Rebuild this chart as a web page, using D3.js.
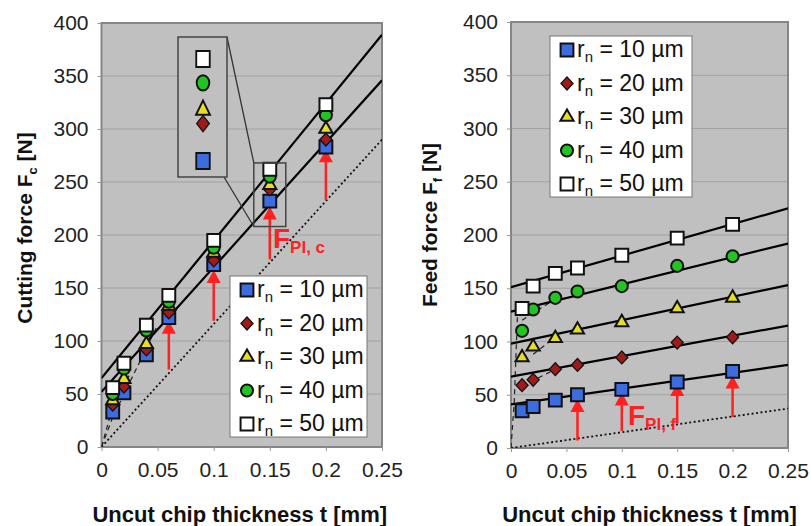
<!DOCTYPE html>
<html>
<head>
    <title>Cutting and feed force</title>
    <script src="https://d3js.org/d3.v7.min.js"></script>
    <style>
        body { margin:0; background:white; }
        svg { display:block; font-family:'Liberation Sans', Arial, sans-serif; }
    </style>
</head>
<body>
    <svg width="811" height="526"></svg>
<script>

    // uncut chip thickness values measured [mm]
    const tVals = [0.01, 0.02, 0.04, 0.06, 0.1, 0.15, 0.2];
    const radii = ['10', '20', '30', '40', '50'];
    const xTicks = [0, 0.05, 0.1, 0.15, 0.2, 0.25];
    const yTicks = [0, 50, 100, 150, 200, 250, 300, 350, 400];

    // cutting force Fc [N], one array per edge radius
    const fc10 = [33, 51, 87, 122, 172, 232, 283];
    const fc20 = [40, 57, 92, 127, 176, 243, 290];
    const fc30 = [44, 64, 97, 133, 183, 247, 300];
    const fc40 = [50, 74, 110, 137, 188, 255, 313];
    const fc50 = [56, 79, 115, 143, 195, 262, 323];

    // feed force Ff [N]
    const ff10 = [35, 39, 45, 50, 55, 62, 72];
    const ff20 = [59, 64, 74, 78, 85, 99, 104];
    const ff30 = [85, 95, 103, 111, 118, 131, 141];
    const ff40 = [110, 130, 141, 147, 152, 171, 180];
    const ff50 = [131, 152, 164, 169, 181, 197, 210];

    // fitted lines: value at t=0 and t=0.25
    const fcFits = [[52, 346], [65, 389]];
    const ffFits = [[41, 78], [67, 115], [98, 153], [128, 192], [151, 225]];
    // ploughing force line (dotted)
    const fcPlough = [0, 290];
    const ffPlough = [0, 37];
    // dashed run-in curves near origin
    const fcDashed = [[[0, 0], [0.01, 28], [0.05, 115]], [[0, 0], [0.01, 38], [0.025, 68]]];
    const ffDashed = [[[0, 0], [0.003, 45], [0.006, 130]], [[0.01, 58], [0.04, 74]],
                      [[0.02, 88], [0.04, 104]], [[0.01, 120], [0.04, 140]]];
    // red arrows: t, from, to
    const fcArrows = [[0.06, 73, 119], [0.1, 119, 167], [0.15, 177, 227], [0.2, 233, 281]];
    const ffArrows = [[0.06, 7, 46], [0.1, 16, 52], [0.15, 23, 61], [0.2, 29, 68]];

    const markerFill = { '10': '#3b6de0', '20': '#a11a1a', '30': '#e6de1e', '40': '#22c422', '50': '#ffffff' };
    const markerShape = { '10': d3.symbolSquare, '20': d3.symbolDiamond, '30': d3.symbolTriangle,
                          '40': d3.symbolCircle, '50': d3.symbolSquare };
    const markerSize = { '10': 165, '20': 75, '30': 75, '40': 115, '50': 165 };

    let svg = d3.select('svg');

    function marker(sel, rn, sx, sy) {
        sx = sx || 1;
        sy = sy || sx;
        if (rn == '20') { sx *= 1.3; sy *= 0.8; }
        sel.append('path')
            .attr('d', d3.symbol().type(markerShape[rn]).size(markerSize[rn])())
            .attr('transform', `scale(${sx},${sy})`)
            .style('fill', markerFill[rn])
            .style('stroke', '#111')
            .style('stroke-width', (rn == '20' ? 1.2 : 2) / Math.sqrt(sx * sy));
    }

    function drawPanel(cfg) {
        let x = d3.scaleLinear().domain([0, 0.25]).range([cfg.left, cfg.right]);
        let y = d3.scaleLinear().domain([0, 400]).range([cfg.bottom, cfg.top]);
        let g = svg.append('g');

        // plot area
        g.append('rect')
            .attr('x', x(0)).attr('y', y(400))
            .attr('width', x(0.25) - x(0)).attr('height', y(0) - y(400))
            .style('fill', '#c0c0c0');
        g.selectAll('.grid')
            .data(yTicks.slice(1, -1))
            .join('line')
            .attr('x1', x(0)).attr('x2', x(0.25))
            .attr('y1', d => y(d)).attr('y2', d => y(d))
            .style('stroke', '#a2a2a2').style('stroke-width', 1);
        g.append('rect')
            .attr('x', x(0)).attr('y', y(400))
            .attr('width', x(0.25) - x(0)).attr('height', y(0) - y(400))
            .style('fill', 'none').style('stroke', '#858585').style('stroke-width', 2);

        // axes
        let yAxis = g.append('g')
            .attr('transform', `translate(${x(0)},0)`)
            .call(d3.axisLeft(y).tickValues(yTicks).tickSize(4).tickPadding(9));
        let xAxis = g.append('g')
            .attr('transform', `translate(0,${y(0)})`)
            .call(d3.axisBottom(x).tickValues(xTicks).tickSize(4).tickPadding(11)
                    .tickFormat(d => d3.format('')(d)));
        [yAxis, xAxis].forEach(a => {
            a.select('.domain').remove();
            a.selectAll('line').style('stroke', '#999');
            a.selectAll('text').style('font-size', '21px').style('fill', '#222')
                .style('font-family', "'Liberation Sans', Arial, sans-serif");
        });

        let clip = 'clip-' + cfg.id;
        g.append('clipPath').attr('id', clip)
            .append('rect')
            .attr('x', x(0)).attr('y', y(400))
            .attr('width', x(0.25) - x(0)).attr('height', y(0) - y(400));
        let plot = g.append('g').attr('clip-path', `url(#${clip})`);

        let line = d3.line().x(d => x(d[0])).y(d => y(d[1]));

        // ploughing line
        plot.append('path')
            .attr('d', line([[0, cfg.plough[0]], [0.25, cfg.plough[1]]]))
            .style('fill', 'none').style('stroke', '#111')
            .style('stroke-width', 1.8).style('stroke-dasharray', '2,2.5');

        // dashed curves
        plot.selectAll('.dash')
            .data(cfg.dashed)
            .join('path')
            .attr('d', line)
            .style('fill', 'none').style('stroke', '#222')
            .style('stroke-width', 1.2).style('stroke-dasharray', '5,4');

        // fit lines
        plot.selectAll('.fit')
            .data(cfg.fits)
            .join('path')
            .attr('d', d => line([[0, d[0]], [0.25, d[1]]]))
            .style('fill', 'none').style('stroke', '#000').style('stroke-width', 2.2);

        // arrows
        cfg.arrows.forEach(a => {
            let ax = x(a[0]);
            plot.append('line')
                .attr('x1', ax).attr('x2', ax)
                .attr('y1', y(a[1])).attr('y2', y(a[2]) + 10)
                .style('stroke', '#ff2020').style('stroke-width', 2.5);
            plot.append('path')
                .attr('d', `M${ax},${y(a[2])} l-7,13 l14,0 z`)
                .style('fill', '#ff2020');
        });

        // markers
        cfg.series.forEach((vals, i) => {
            let rn = radii[i];
            vals.forEach((v, j) => {
                let m = g.append('g').attr('transform', `translate(${x(tVals[j])},${y(v)})`);
                marker(m, rn);
            });
        });

        // F_Pl label
        let lab = g.append('text')
            .attr('x', cfg.labX).attr('y', cfg.labY)
            .style('fill', '#ff2020').style('font-weight', 'bold').style('font-size', '28px');
        lab.append('tspan').text('F');
        lab.append('tspan').attr('dy', 5).style('font-size', '17px').text(cfg.labSub);

        // axis titles
        g.append('text')
            .attr('x', (x(0) + x(0.25)) / 2 + cfg.xTitleShift).attr('y', 522)
            .attr('text-anchor', 'middle')
            .style('font-weight', 'bold').style('font-size', '22px').style('fill', '#111')
            .text('Uncut chip thickness t [mm]');
        let yt = g.append('text')
            .attr('transform', `translate(${cfg.yTitleX},${cfg.yTitleY}) rotate(-90)`)
            .attr('text-anchor', 'middle')
            .style('font-weight', 'bold').style('font-size', '21px').style('fill', '#111');
        yt.append('tspan').text(cfg.yTitle + ' F');
        yt.append('tspan').attr('dy', 5).style('font-size', '13px').text(cfg.ySub);
        yt.append('tspan').attr('dy', -5).text(' [N]');

        // legend
        let lg = g.append('g').attr('transform', `translate(${cfg.legX},${cfg.legY})`);
        lg.append('rect')
            .attr('width', cfg.legW).attr('height', 161)
            .style('fill', 'white').style('stroke', '#777').style('stroke-width', 1);
        radii.forEach((rn, i) => {
            let row = lg.append('g').attr('transform', `translate(0,${13 + i * 33.5})`);
            let m = row.append('g').attr('transform', 'translate(17,1)');
            marker(m, rn);
            let t = row.append('text').attr('x', 27).attr('y', 8)
                .style('font-size', '23px').style('fill', '#111');
            t.append('tspan').text('r');
            t.append('tspan').attr('dy', 5).style('font-size', '15px').text('n');
            t.append('tspan').attr('dy', -5).text(' = ' + rn + ' µm');
        });

        return { x: x, y: y, g: g };
    }

    // left panel: cutting force
    let left = drawPanel({
        id: 'fc', left: 101.5, right: 382, top: 23, bottom: 447,
        series: [fc10, fc20, fc30, fc40, fc50], fits: fcFits, plough: fcPlough,
        dashed: fcDashed, arrows: fcArrows,
        labX: 273, labY: 248, labSub: 'Pl, c',
        xTitleShift: -2, yTitleX: 32, yTitleY: 228, yTitle: 'Cutting force', ySub: 'c',
        legX: 230, legY: 276, legW: 137
    });

    // inset zoom of the points at t = 0.15
    let insetY = d3.scaleLinear().domain([232, 262]).range([161, 59]);
    let ig = left.g.append('g');
    let sx0 = left.x(0.15) - 16, sx1 = left.x(0.15) + 16;
    let sy0 = left.y(268), sy1 = left.y(208);
    ig.append('line').attr('x1', 227).attr('y1', 37).attr('x2', sx0).attr('y2', sy0)
        .style('stroke', '#333').style('stroke-width', 1.3);
    ig.append('line').attr('x1', 224).attr('y1', 177).attr('x2', sx0).attr('y2', sy1)
        .style('stroke', '#333').style('stroke-width', 1.3);
    ig.append('rect').attr('x', sx0).attr('y', sy0).attr('width', sx1 - sx0).attr('height', sy1 - sy0)
        .style('fill', 'none').style('stroke', '#444').style('stroke-width', 1.5);
    ig.append('rect').attr('x', 178).attr('y', 37).attr('width', 49).attr('height', 140)
        .style('fill', '#c0c0c0').style('stroke', '#444').style('stroke-width', 1.5);
    [fc10, fc20, fc30, fc40, fc50].forEach((vals, i) => {
        let m = ig.append('g').attr('transform', `translate(203,${insetY(vals[5])})`);
        marker(m, radii[i], 1.05, 1.25);
    });

    // right panel: feed force
    drawPanel({
        id: 'ff', left: 511, right: 788, top: 22, bottom: 448,
        series: [ff10, ff20, ff30, ff40, ff50], fits: ffFits, plough: ffPlough,
        dashed: ffDashed, arrows: ffArrows,
        labX: 628, labY: 425, labSub: 'Pl, f',
        xTitleShift: 0, yTitleX: 437, yTitleY: 225, yTitle: 'Feed force', ySub: 'f',
        legX: 550, legY: 36, legW: 142
    });

</script>
</body>
</html>
